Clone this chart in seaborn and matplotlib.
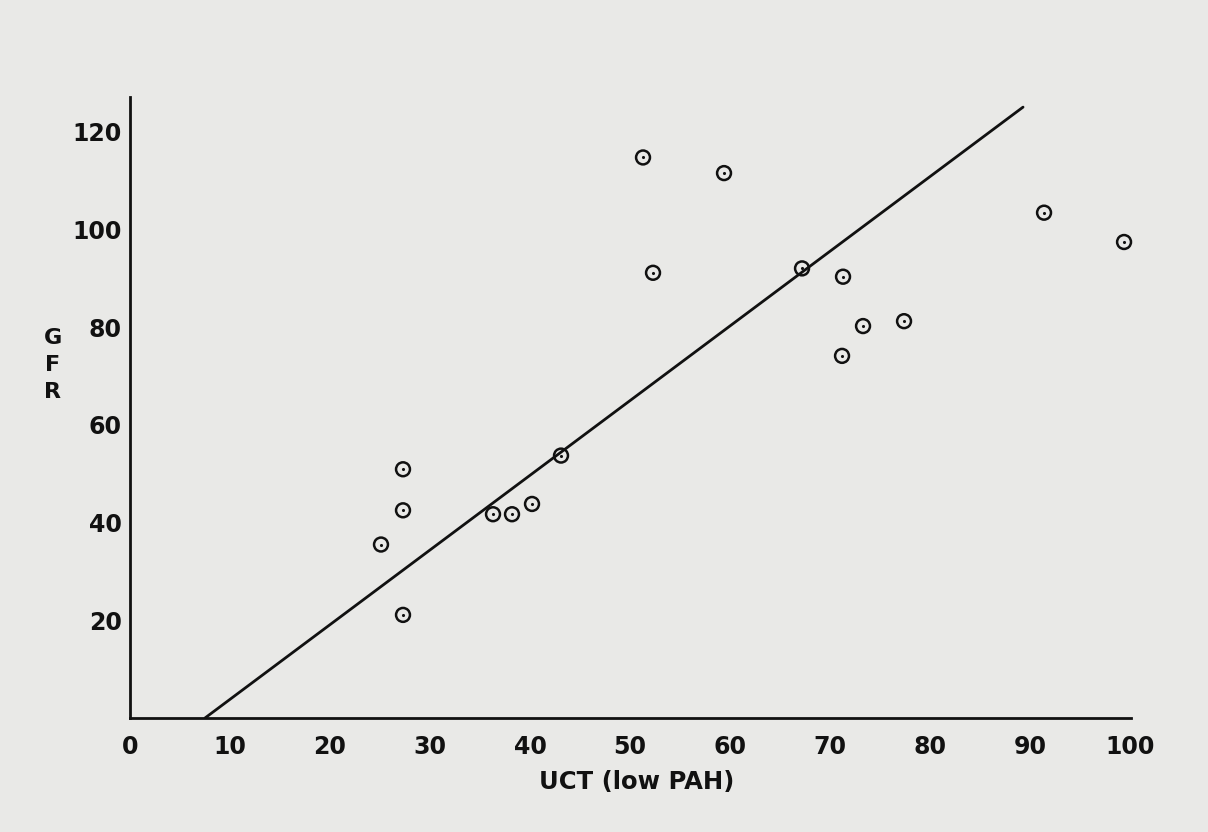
import numpy as np
import pandas as pd
import matplotlib
matplotlib.use('Agg')
import matplotlib.pyplot as plt
import seaborn as sns

# UCT (low PAH) against GFR
uct = [25.1, 27.3, 27.3, 27.3, 36.3, 38.2, 40.2, 43.1, 51.3, 52.3,
       59.4, 67.2, 71.3, 71.2, 73.3, 77.4, 91.4, 99.4]
gfr = [35.5, 50.9, 42.5, 21.1, 41.7, 41.7, 43.8, 53.7, 114.7, 91.1,
       111.5, 92.0, 90.3, 74.1, 80.2, 81.2, 103.4, 97.4]

# drawn regression line (end points)
line_x = [7.5, 89.3]
line_y = [0.0, 125.0]

x_ticks = [0, 10, 20, 30, 40, 50, 60, 70, 80, 90, 100]
y_ticks = [20, 40, 60, 80, 100, 120]

bg = '#e9e9e7'
ink = '#111111'
sns.set_style('white', {'axes.facecolor': bg, 'figure.facecolor': bg})
plt.rcParams['font.family'] = ['DejaVu Sans']

df = pd.DataFrame({'UCT': uct, 'GFR': gfr})
line_df = pd.DataFrame({'UCT': line_x, 'GFR': line_y})

fig = plt.figure(figsize=(12.08, 8.32), dpi=100)
ax = fig.add_axes([0.1076, 0.137, 0.8287, 0.746])

sns.lineplot(data=line_df, x='UCT', y='GFR', color=ink, linewidth=2, ax=ax)
sns.scatterplot(data=df, x='UCT', y='GFR', marker='o', s=100, facecolor='none',
                edgecolor=ink, linewidth=1.8, ax=ax, zorder=3, clip_on=False)
sns.scatterplot(data=df, x='UCT', y='GFR', marker='o', s=5, color=ink,
                linewidth=0, ax=ax, zorder=4, clip_on=False)

ax.set_xlim(0, 100.1)
ax.set_ylim(0, 127)
ax.set_xticks(x_ticks)
ax.set_xticklabels([str(t) for t in x_ticks], fontweight='bold')
ax.set_yticks(y_ticks)
ax.set_yticklabels([str(t) for t in y_ticks], fontweight='bold')
ax.tick_params(axis='both', length=0, labelsize=17, colors=ink)
ax.tick_params(axis='x', pad=12)
ax.tick_params(axis='y', pad=6)

for side in ['top', 'right']:
    ax.spines[side].set_visible(False)
for side in ['left', 'bottom']:
    ax.spines[side].set_color(ink)
    ax.spines[side].set_linewidth(2)

ax.set_xlabel('')
ax.set_ylabel('')
fig.text(637 / 1208, 1 - 782 / 832, 'UCT (low PAH)', ha='center', va='center',
         fontsize=17.5, fontweight='bold', color=ink)
fig.text(53 / 1208, 1 - 365 / 832, 'G\nF\nR', ha='center', va='center',
         fontsize=16, fontweight='bold', color=ink, linespacing=1.45)

fig.savefig('out.png', dpi=100, facecolor=bg)
